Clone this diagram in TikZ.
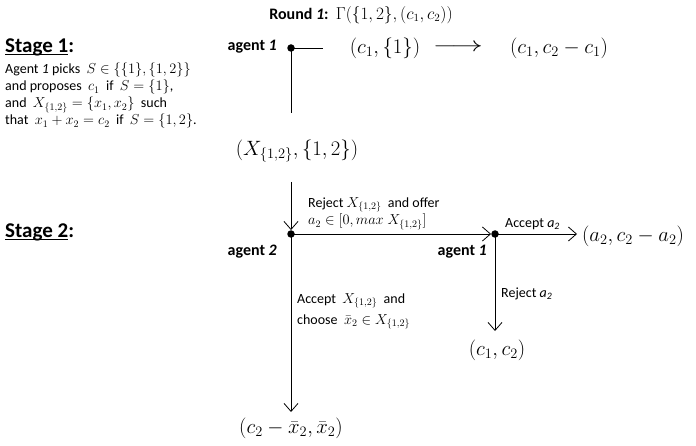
\documentclass[tikz,border=0pt]{standalone}
\usepackage{fontspec}
\setmainfont{Carlito}
\usetikzlibrary{arrows.meta}
\newcommand\myul[1]{\setbox0\hbox{#1}\rlap{\rule[-3pt]{\wd0}{1.3pt}}\box0}
\begin{document}
\begin{tikzpicture}[x=1pt,y=-1pt,
 dot/.style={circle,fill,inner sep=0pt,minimum size=7.5pt},
 big/.style={font=\fontsize{21}{24}\selectfont, inner sep=0pt},
 lab/.style={font=\fontsize{14}{17}\selectfont, inner sep=0pt},
 agent/.style={font=\fontsize{16}{18}\selectfont\bfseries, inner sep=0pt},
 stage/.style={font=\fontsize{21}{24}\selectfont\bfseries, inner sep=0pt},
 arr/.style={-{Straight Barb[length=8pt,width=14pt]}, line width=0.8pt},
 ln/.style={line width=0.8pt}]
\useasboundingbox (0,0) rectangle (696,446);

\node[inner sep=0pt, font=\fontsize{16}{18}\selectfont] (round) at (361,15) {\textbf{Round \textit{1}:}\ \ $\Gamma(\{1,2\},(c_1,c_2))$};

\node[stage, anchor=west] (st1) at (5,47) {\myul{Stage 1}:};
\node[lab, anchor=north west, align=left] (st1txt) at (5,63) {Agent \textit{1} picks\ \ $S\in\bigl\{\{1\},\{1,2\}\bigr\}$\\ and proposes\ \ $c_1$\ \ if\ \ $S=\{1\}$,\\ and\ \ $X_{\{1,2\}}=\{x_1,x_2\}$\ \ such\\ that\ \ $x_1+x_2=c_2$\ \ if\ \ $S=\{1,2\}$.};
\node[stage, anchor=west] (st2) at (5,232) {\myul{Stage 2}:};

% stage 1
\node[dot] (a1) at (291,48) {};
\node[agent, anchor=east] (a1l) at (277,47) {agent \textit{1}};
\coordinate (h1) at (323,48);
\coordinate (v1) at (291,113);
\draw[ln] (a1.center) -- (h1);
\draw[ln] (a1.center) -- (v1);
\node[big] (o1) at (385,48) {$(c_1,\{1\})$};
\node[big] (lar) at (458,48) {\scalebox{1.5}[1]{$\longrightarrow$}};
\node[big] (o1r) at (559,48) {$(c_1,c_2-c_1)$};
\node[big] (xs) at (297,151) {$(X_{\{1,2\}},\{1,2\})$};

% stage 2
\coordinate (xsb) at (291,182);
\node[dot] (a2) at (291,234) {};
\draw[arr] (xsb) -- (a2);
\node[agent, anchor=east] (a2l) at (277,252) {agent \textit{2}};
\node[dot] (b1) at (495,234) {};
\node[agent, anchor=east] (b1l) at (487,252) {agent \textit{1}};
\draw[arr] (a2.center) -- (b1);
\node[lab, anchor=west] (rej1) at (308,205) {Reject $X_{\{1,2\}}$\ \ and offer};
\node[lab, anchor=west] (rej2) at (308,222) {$a_2\in[0,max\;X_{\{1,2\}}]$};

\node[big] (o2) at (633,236) {$(a_2,c_2-a_2)$};
\coordinate (o2w) at (577,234);
\draw[arr] (b1.center) -- (o2w);
\node[lab, anchor=west] (acc) at (505,224) {Accept \textit{a\textsubscript{2}}};

\coordinate (b1d) at (495,331);
\draw[arr] (b1.center) -- (b1d);
\node[lab, anchor=west] (rja) at (501,294) {Reject \textit{a\textsubscript{2}}};
\node[big] (o3) at (497,350) {$(c_1,c_2)$};

\coordinate (a2d) at (291,412);
\draw[arr] (a2.center) -- (a2d);
\node[lab, anchor=west] (acx1) at (297,301) {Accept\ \ $X_{\{1,2\}}$\ \ and};
\node[lab, anchor=west] (acx2) at (297,322) {choose\ \ $\bar{x}_2\in X_{\{1,2\}}$};
\node[big] (o4) at (291,428) {$(c_2-\bar{x}_2,\bar{x}_2)$};
\end{tikzpicture}
\end{document}
